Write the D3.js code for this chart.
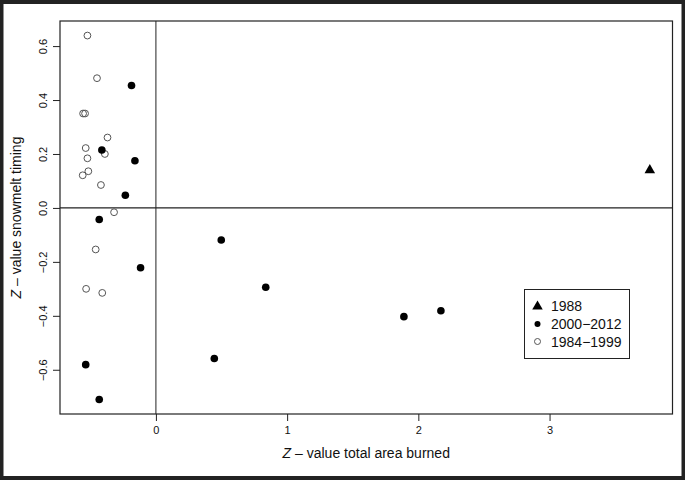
<!DOCTYPE html>
<html><head><meta charset="utf-8">
<script src="https://cdn.jsdelivr.net/npm/d3@7"></script>
<style>
html,body{margin:0;padding:0;background:#222;}
svg{display:block;}
text{font-family:"Liberation Sans",Arial,sans-serif;fill:#111;}
</style></head>
<body>
<script>
// 1984-1999 (open circles)
const earlyX = [-0.522,-0.449,-0.555,-0.540,-0.369,-0.535,-0.389,-0.522,-0.515,-0.558,-0.419,-0.319,-0.459,-0.532,-0.409];
const earlyY = [0.639,0.481,0.350,0.350,0.261,0.222,0.200,0.184,0.136,0.121,0.085,-0.016,-0.154,-0.300,-0.315];
// 2000-2012 (filled circles)
const lateX = [-0.186,-0.412,-0.160,-0.233,-0.432,0.498,-0.117,0.837,1.890,2.172,0.445,-0.535,-0.432];
const lateY = [0.454,0.215,0.175,0.047,-0.043,-0.119,-0.222,-0.294,-0.403,-0.381,-0.558,-0.581,-0.710];
// 1988 (triangle)
const y1988X = [3.764];
const y1988Y = [0.142];
const xTicks = [0,1,2,3];
const yTicks = [-0.6,-0.4,-0.2,0.0,0.2,0.4,0.6];
const legendLabels = ["1988","2000\u22122012","1984\u22121999"];

const W=685,H=480;
const svg=d3.select("body").append("svg").attr("width",W).attr("height",H);
svg.append("rect").attr("x",3.5).attr("y",4).attr("width",678).attr("height",472).attr("fill","#fff");

const L=60,R=672.5,T=21,B=414;
const x=d3.scaleLinear().domain([-0.731,3.937]).range([L,R]);
const y=d3.scaleLinear().domain([-0.764,0.693]).range([B,T]);

// axes
const xa=svg.append("g").attr("transform",`translate(0,${B})`)
  .call(d3.axisBottom(x).tickValues(xTicks).tickFormat(d3.format("d")).tickSize(7).tickPadding(5));
const ya=svg.append("g").attr("transform",`translate(${L},0)`)
  .call(d3.axisLeft(y).tickValues(yTicks).tickFormat(d=>d3.format(".1f")(d).replace("-","\u2212")).tickSize(7));
[xa,ya].forEach(a=>{a.select(".domain").remove();a.selectAll("line").attr("stroke","#222");
  a.selectAll("text").attr("font-size","11px").attr("font-family","Liberation Sans, Arial, sans-serif").attr("fill","#222");});
ya.selectAll(".tick text").attr("transform","rotate(-90)").attr("x",0).attr("y",-13).attr("dy","0em").attr("text-anchor","middle");

// box
svg.append("rect").attr("x",L).attr("y",T).attr("width",R-L).attr("height",B-T)
  .attr("fill","none").attr("stroke","#222").attr("stroke-width",1.2);
// reference lines
svg.append("line").attr("x1",x(0)).attr("x2",x(0)).attr("y1",T).attr("y2",B).attr("stroke","#222").attr("stroke-width",1);
svg.append("line").attr("x1",L).attr("x2",R).attr("y1",y(0)).attr("y2",y(0)).attr("stroke","#222").attr("stroke-width",1.2);

// points
svg.append("g").selectAll("circle").data(d3.range(earlyX.length)).join("circle")
  .attr("cx",i=>x(earlyX[i])).attr("cy",i=>y(earlyY[i])).attr("r",3.4)
  .attr("fill","none").attr("stroke","#555").attr("stroke-width",1);
svg.append("g").selectAll("circle").data(d3.range(lateX.length)).join("circle")
  .attr("cx",i=>x(lateX[i])).attr("cy",i=>y(lateY[i])).attr("r",3.8).attr("fill","#000");
const tri=d3.symbol().type(d3.symbolTriangle).size(48);
svg.append("g").selectAll("path").data(d3.range(y1988X.length)).join("path")
  .attr("d",tri).attr("transform",i=>`translate(${x(y1988X[i])},${y(y1988Y[i])+0.5})`).attr("fill","#000");

// axis titles
const xt=svg.append("text").attr("x",(L+R)/2).attr("y",458).attr("text-anchor","middle").attr("font-size","14px");
xt.append("tspan").attr("font-style","italic").text("Z");
xt.append("tspan").text(" \u2013 value total area burned");
const yt=svg.append("text").attr("transform",`translate(21,${(T+B)/2}) rotate(-90)`).attr("text-anchor","middle").attr("font-size","14px");
yt.append("tspan").attr("font-style","italic").text("Z");
yt.append("tspan").text(" \u2013 value snowmelt timing");

// legend
const lg=svg.append("g");
lg.append("rect").attr("x",524.5).attr("y",289.5).attr("width",105).attr("height",69)
  .attr("fill","#fff").attr("stroke","#222").attr("stroke-width",1);
const ly=[306,324,341.5];
lg.append("path").attr("d",tri).attr("transform",`translate(537.5,${ly[0]+0.5})`).attr("fill","#000");
lg.append("circle").attr("cx",537.5).attr("cy",ly[1]).attr("r",3).attr("fill","#000");
lg.append("circle").attr("cx",537.5).attr("cy",ly[2]).attr("r",3).attr("fill","none").attr("stroke","#555");
legendLabels.forEach((t,i)=>lg.append("text").attr("x",551).attr("y",ly[i]).attr("dy","0.36em").attr("font-size","14px").text(t));
</script>
</body></html>
